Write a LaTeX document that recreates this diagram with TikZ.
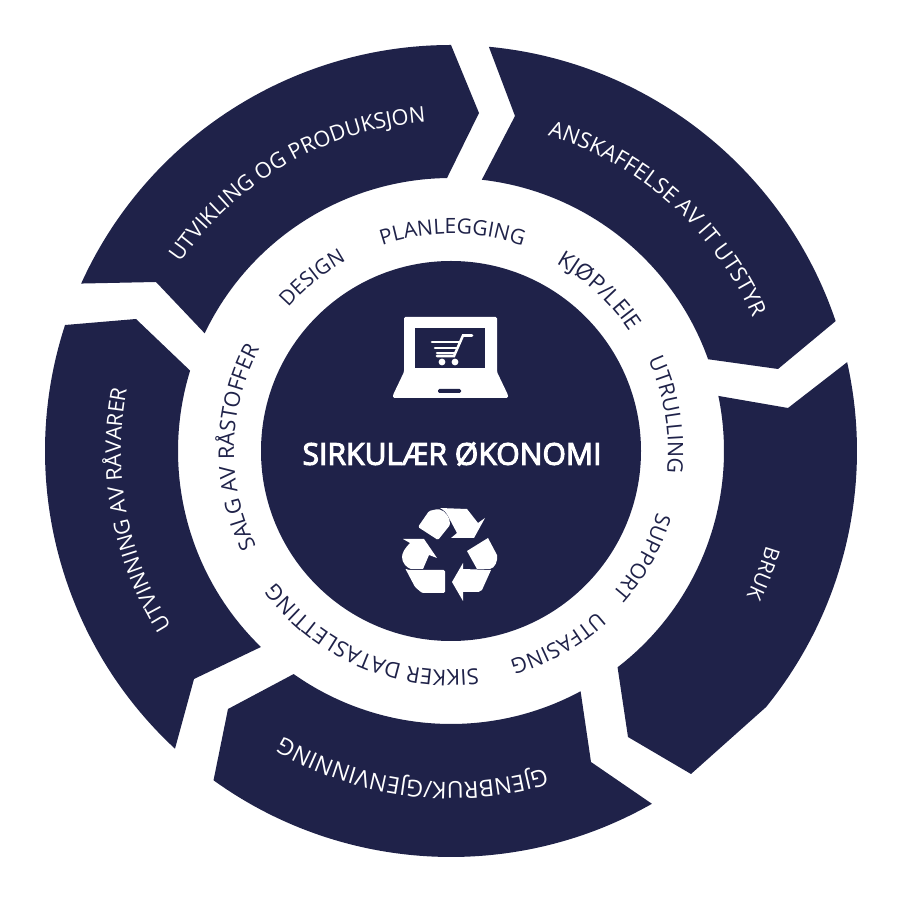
\documentclass[tikz,border=0pt]{standalone}
\usepackage{fontspec}
\setmainfont{Open Sans}
\newfontfamily\boldf{Open Sans}[FakeBold=3.5]
\usetikzlibrary{decorations.text}
\definecolor{navy}{HTML}{1F2249}
\tikzset{
  seg/.style={fill=navy,draw=none},
  icon/.style={fill=white,draw=none},
  cartline/.style={draw=white,line width=1.9pt,line cap=round},
}
% #1 centre angle, #2 radius, #3 colour, #4 font size, #5 text
\newcommand{\ringlabel}[5]{%
  \path[decorate,decoration={text along path,text align=center,
    text={|\fontsize{#4}{#4}\selectfont\color{#3}|#5}}]
    (#1+70:#2) arc[start angle=#1+70,end angle=#1-70,radius=#2];}
\begin{document}
\begin{tikzpicture}[x=0.75pt,y=0.75pt]
\useasboundingbox (0,0) rectangle (900,900);
\begin{scope}[shift={(451,449)}]
\def\Ro{406}\def\Ri{273}
\fill[seg] (155.64:\Ro) arc[start angle=155.64,end angle=90,radius=\Ro] -- (28,338) -- (90.84:\Ri) arc[start angle=90.84,end angle=154.46,radius=\Ri] -- (-295,169) -- cycle;
\fill[seg] (84.65:\Ro) arc[start angle=84.65,end angle=18.66,radius=\Ro] -- (327,82) -- (19.64:\Ri) arc[start angle=19.64,end angle=83.52,radius=\Ri] -- (64,335) -- cycle;
\fill[seg] (12.64:\Ro) arc[start angle=12.64,end angle=-39.1,radius=\Ro] -- (240,-323) -- (177,-286) -- (-52.4:\Ri) arc[start angle=-52.4,end angle=11.64,radius=\Ri] -- (337,43) -- cycle;
\fill[seg] (-60.34:\Ro) arc[start angle=-60.34,end angle=-125.8,radius=\Ro] -- (-223,-258) -- (-125.2:\Ri) arc[start angle=-125.2,end angle=-61.66,radius=\Ri] -- (140,-311) -- cycle;
\fill[seg] (227.17:\Ro) arc[start angle=227.17,end angle=161.92,radius=\Ro] -- (-315,132) -- (162.88:\Ri) arc[start angle=162.88,end angle=225.88,radius=\Ri] -- (-257,-228) -- cycle;
\fill[navy] (0,0) circle[radius=190];
\node[font=\boldf\fontsize{22.6}{22.6}\selectfont,text=white] (title) at (1,-3) {SIRKULÆR ØKONOMI};
% outer labels
\ringlabel{119.8}{330}{white}{16.3}{UTVIKLING OG PRODUKSJON}
\ringlabel{48.4}{330}{white}{16.6}{ANSKAFFELSE AV IT UTSTYR}
\ringlabel{-21.4}{329}{white}{15.6}{BRUK}
\ringlabel{-97}{331}{white}{17.4}{GJENBRUK/GJENVINNING}
\ringlabel{190.6}{330}{white}{16.2}{UTVINNING AV RÅVARER}
% inner labels
\ringlabel{128.7}{217}{navy}{15.6}{DESIGN}
\ringlabel{89.6}{217}{navy}{15.8}{PLANLEGGING}
\ringlabel{47.2}{215}{navy}{16.8}{KJØP/LEIE}
\ringlabel{9.5}{217}{navy}{16}{UTRULLING}
\ringlabel{-29}{215}{navy}{15.8}{SUPPORT}
\ringlabel{-61}{217}{navy}{16}{UTFASING}
\ringlabel{-113}{219}{navy}{16.4}{SIKKER DATASLETTING}
\ringlabel{179}{217}{navy}{16.2}{SALG AV RÅSTOFFER}
\end{scope}
\begin{scope}[shift={(0,900)},yscale=-1]
% laptop
\fill[icon,rounded corners=1pt] (404,317) -- (497,317) -- (497,372) -- (508,395) -- (508,398) -- (393,398) -- (393,395) -- (404,372) -- cycle;
\fill[navy] (415,328) rectangle (485,368);
\fill[navy,rounded corners=1pt] (438,389) rectangle (461,393);
% cart
\draw[cartline] (472,335.5) -- (463,335.5) -- (454,356) -- (437,356);
\draw[cartline] (432,342) -- (459,342);
\draw[cartline] (435,348) -- (456.5,348);
\draw[cartline] (437,353) -- (455,353);
\fill[icon] (442,362) circle[radius=3.4];
\fill[icon] (455,362) circle[radius=3.4];
% recycling symbol
\fill[icon,rounded corners=1pt] (418,527) -- (429,511) -- (438,509) .. controls (446,511) and (450,518) .. (450,525) -- (438,540) -- cycle;
\fill[icon] (440,508) -- (467,509) -- (478,523) -- (485,518) -- (474,538) -- (451,538) -- (457,533) -- (449,518) .. controls (447,513) and (444,510) .. (440,508) -- cycle;
\fill[icon] (467,551) -- (488,538) -- (497,555) .. controls (498,561) and (495,568) .. (490,569) -- (477,569) -- cycle;
\fill[icon] (491,570) -- (482,590) .. controls (480,592) and (478,592) .. (475,592) -- (463,592) -- (463,601) -- (452,582) -- (463,563) -- (463,569) -- cycle;
\fill[icon,rounded corners=1pt] (405,568) .. controls (407,570) and (410,570) .. (413,570) -- (445,570) -- (445,593) -- (422,593) -- (415,587) -- cycle;
\fill[icon] (403,539) -- (424,539) -- (437,558) -- (429,555) -- (423,569) -- (411,569) .. controls (407,568) and (402,563) .. (402,557) .. controls (402,553) and (405,548) .. (410,543) -- cycle;
\end{scope}
\end{tikzpicture}
\end{document}
